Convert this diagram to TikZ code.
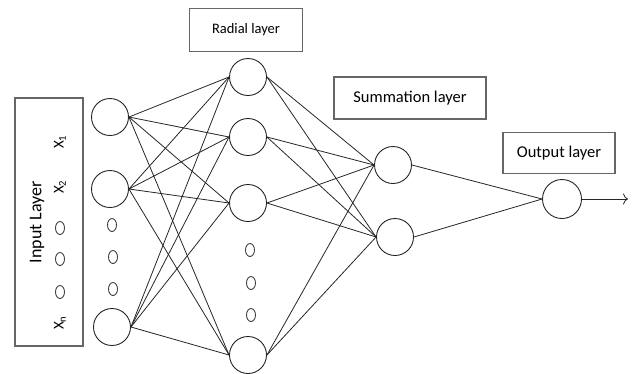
\documentclass[tikz,border=0pt]{standalone}
\usepackage{fontspec}
\setmainfont{Carlito}
\usetikzlibrary{arrows.meta}

\tikzset{
  neuron/.style={draw=black!85,line width=0.9pt,circle,minimum size=37pt,inner sep=0pt},
  layerbox/.style={draw=black!60,line width=1.1pt,inner sep=0pt,font=\fontsize{16.5}{18}\selectfont},
  wire/.style={draw=black!85,line width=0.8pt},
  dot/.style={draw=black!75,line width=0.9pt},
  xlabel/.style={rotate=90,font=\fontsize{15}{17}\selectfont}
}

\begin{document}
\begin{tikzpicture}[x=1pt,y=-1pt]
\useasboundingbox (0,0) rectangle (637,373);
% input layer
\draw[black!60,line width=1.1pt] (15,98) rectangle (83,346);
\node[rotate=90,font=\fontsize{18}{20}\selectfont] (inlabel) at (37,222) {Input Layer};
\node[xlabel] (xone) at (60,142) {X\textsubscript{1}};
\node[xlabel] (xtwo) at (60,187) {X\textsubscript{2}};
\node[xlabel] (xn) at (60,323) {X\textsubscript{n}};
\draw[dot] (60,228) ellipse (4.5pt and 6.5pt);
\draw[dot] (60,259) ellipse (4.5pt and 6.5pt);
\draw[dot] (60,292) ellipse (4.5pt and 6.5pt);
\node[neuron] (i1) at (110,117) {};
\node[neuron] (i2) at (110,189) {};
\node[neuron] (i3) at (112,327) {};
\draw[dot] (112,225) ellipse (4.5pt and 6.5pt);
\draw[dot] (113,257) ellipse (4.5pt and 6.5pt);
\draw[dot] (113,289) ellipse (4.5pt and 6.5pt);
% radial layer
\node[layerbox,font=\fontsize{14.5}{16}\selectfont,minimum width=113pt,minimum height=43pt] (radbox) at (246,30) {Radial layer};
\node[neuron] (r1) at (248,77) {};
\node[neuron] (r2) at (248,137) {};
\node[neuron] (r3) at (248,203) {};
\node[neuron] (r4) at (248,355) {};
\draw[dot] (250,250) ellipse (4.5pt and 6.5pt);
\draw[dot] (251,283) ellipse (4.5pt and 6.5pt);
\draw[dot] (251,315) ellipse (4.5pt and 6.5pt);
% summation layer
\node[layerbox,minimum width=152pt,minimum height=42pt] (sumbox) at (410,98) {Summation layer};
\node[neuron] (s1) at (393,165) {};
\node[neuron] (s2) at (395,237) {};
% output layer
\node[layerbox,minimum width=112pt,minimum height=41pt] (outbox) at (559,153) {Output layer};
\node[neuron,minimum size=39pt] (o1) at (562,199) {};
\coordinate (out) at (628,199);
% connections
\foreach \a in {i1,i2,i3}
  \foreach \b in {r1,r2,r3,r4}
    \draw[wire] (\a.east) -- (\b.west);
\foreach \a in {r1,r2,r3,r4}
  \foreach \b in {s1,s2}
    \draw[wire] (\a.east) -- (\b.west);
\draw[wire] (s1.east) -- (o1.west);
\draw[wire] (s2.east) -- (o1.west);
\draw[wire,-{To[length=5pt,width=11pt]}] (o1.east) -- (out);
\end{tikzpicture}
\end{document}
